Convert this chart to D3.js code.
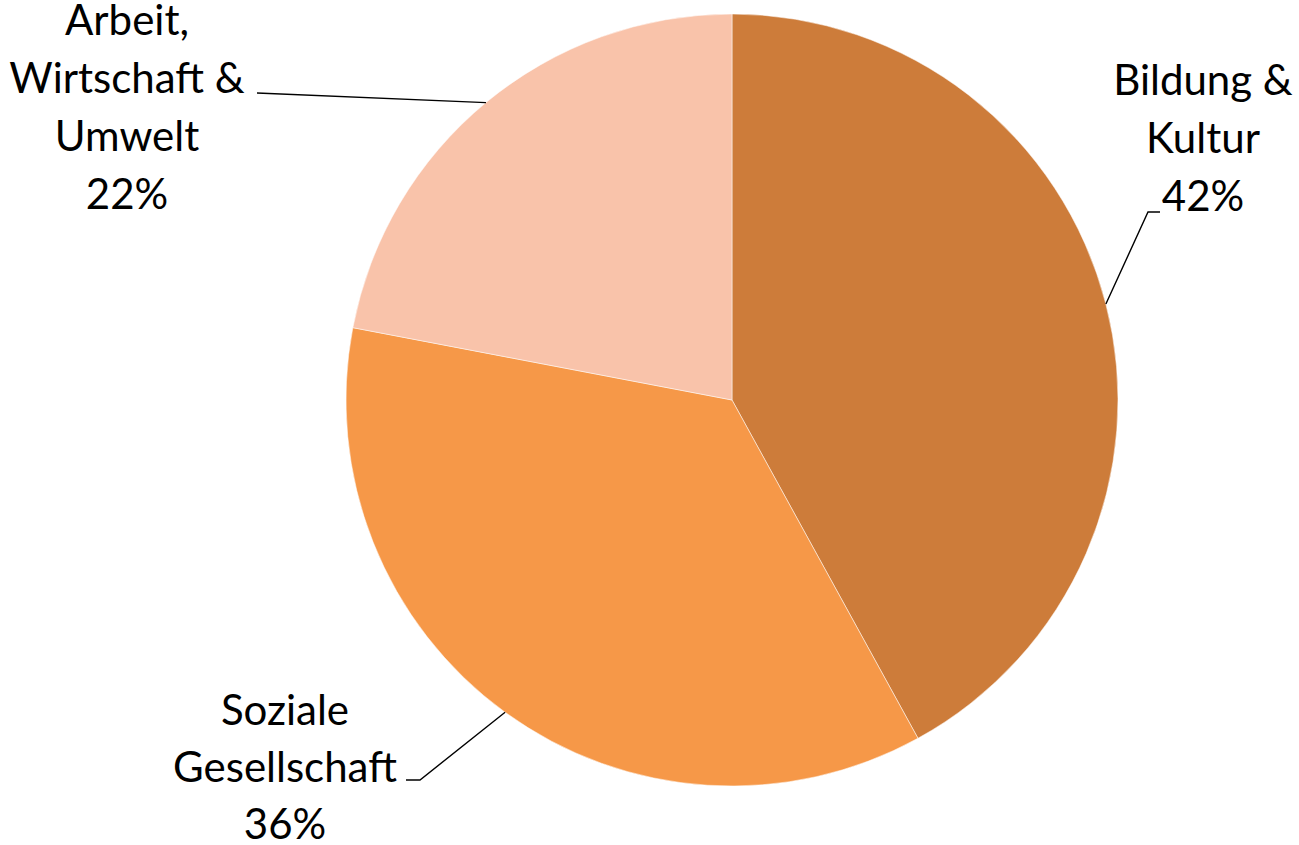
<!DOCTYPE html>
<html><head><meta charset="utf-8">
<script src="https://cdn.jsdelivr.net/npm/d3@7"></script>
<style>html,body{margin:0;padding:0;background:#fff;}svg{display:block;}</style>
</head><body>
<svg id="chart" width="1299" height="845"></svg>
<script>
const categories = ["Bildung & Kultur", "Soziale Gesellschaft", "Arbeit, Wirtschaft & Umwelt"];
const values = [42, 36, 22];
const labelLines = [["Bildung &", "Kultur", "42%"], ["Soziale", "Gesellschaft", "36%"], ["Arbeit,", "Wirtschaft &", "Umwelt", "22%"]];
const colors = ["#CD7C3A", "#F69848", "#F9C3AA"];

const svg = d3.select("#chart");
const cx = 732, cy = 400, R = 386;
const g = svg.append("g").attr("transform", `translate(${cx},${cy})`);

const pie = d3.pie().sort(null).value(d => d);
const arcs = pie(values);
const arc = d3.arc().innerRadius(0).outerRadius(R);

g.selectAll("path").data(arcs).join("path")
  .attr("d", arc)
  .attr("fill", (d, i) => colors[i])
  .attr("stroke", "rgba(255,255,255,0.5)")
  .attr("stroke-width", 1);

// label layout (positions only)
const layout = [
  {x: 1203, y0: 95, lh: 58, elbow: [1148, 212], end: [1160, 212]},
  {x: 285, y0: 725, lh: 57, elbow: [420, 780], end: [406, 780]},
  {x: 127, y0: 35, lh: 58, elbow: null, end: [257, 93]}
];

const fontFamily = "Lato, 'Open Sans', sans-serif";
arcs.forEach((a, i) => {
  const L = layout[i];
  const mid = (a.startAngle + a.endAngle) / 2;
  const px = cx + R * Math.sin(mid), py = cy - R * Math.cos(mid);
  const pts = [[px, py]];
  if (L.elbow) pts.push(L.elbow);
  pts.push(L.end);
  svg.append("path")
    .attr("d", d3.line()(pts))
    .attr("fill", "none").attr("stroke", "#000").attr("stroke-width", 1.4);
  const t = svg.append("text")
    .attr("text-anchor", "middle")
    .attr("font-family", fontFamily)
    .attr("font-size", 42)
    .attr("fill", "#000");
  labelLines[i].forEach((ln, j) => {
    t.append("tspan").attr("x", L.x).attr("y", L.y0 + j * L.lh).text(ln);
  });
});
</script>
</body></html>
